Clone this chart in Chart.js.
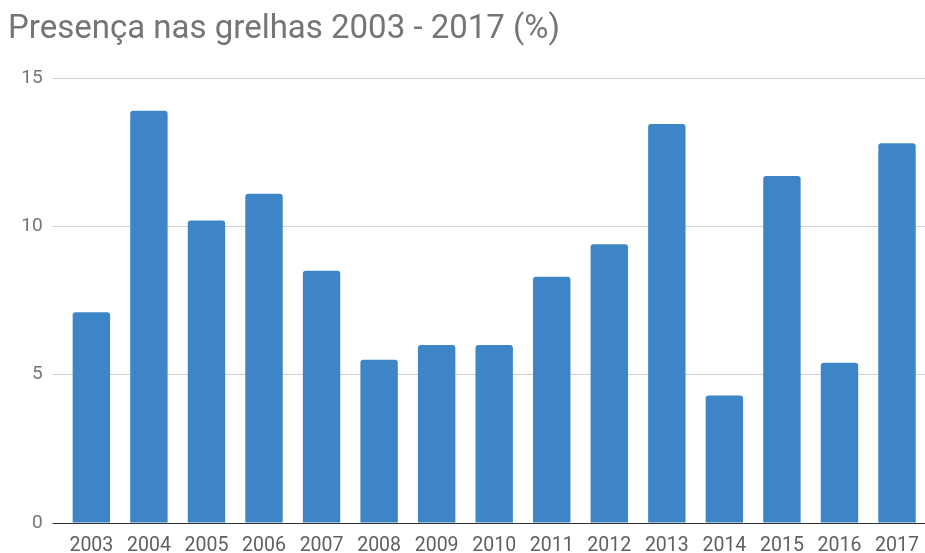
<!DOCTYPE html>
<html>
<head>
<meta charset="utf-8">
<script src="https://cdn.jsdelivr.net/npm/chart.js@4"></script>
<style>
  html, body { margin: 0; padding: 0; overflow: hidden; background: #fff; }
  #wrap { width: 930px; height: 553px; }
</style>
</head>
<body>
<div id="wrap"><canvas id="grelhas"></canvas></div>
<script>
// Dados
const anos = ['2003', '2004', '2005', '2006', '2007', '2008', '2009', '2010',
              '2011', '2012', '2013', '2014', '2015', '2016', '2017'];
const presenca = [7.1, 13.9, 10.2, 11.1, 8.5, 5.5, 6.0, 6.0, 8.3, 9.4, 13.45, 4.3, 11.7, 5.4, 12.8];
const yTicks = [0, 5, 10, 15];

Chart.defaults.font.family = 'Roboto, "Noto Sans", sans-serif';
Chart.defaults.animation = false;

new Chart(document.getElementById('grelhas'), {
  type: 'bar',
  data: {
    labels: anos,
    datasets: [{
      label: 'Presença',
      data: presenca,
      backgroundColor: '#3d85c6',
      borderRadius: { topLeft: 3, topRight: 3 },
      borderSkipped: 'start',
      barPercentage: 0.65,
      categoryPercentage: 1
    }]
  },
  options: {
    responsive: true,
    maintainAspectRatio: false,
    layout: { padding: { left: 8, right: 2, top: 0, bottom: 0 } },
    plugins: {
      legend: { display: false },
      tooltip: { enabled: false },
      title: {
        display: true,
        text: 'Presença nas grelhas 2003 - 2017 (%)',
        align: 'start',
        color: '#757575',
        font: { size: 33, weight: 'normal' },
        padding: { top: 9.5, bottom: 28.9 }
      }
    },
    scales: {
      x: {
        grid: { display: false, drawTicks: false },
        border: { color: '#333', width: 1 },
        ticks: { color: '#606060', font: { size: 19.5 }, padding: 11, maxRotation: 0 },
        afterFit: (s) => { s.height = 30; }
      },
      y: {
        min: 0,
        max: 15,
        afterBuildTicks: (s) => { s.ticks = yTicks.map(v => ({ value: v })); },
        border: { display: false },
        grid: {
          color: (c) => c.tick && c.tick.value === 0 ? '#333' : '#d0d0d0',
          tickLength: 10,
          drawTicks: true
        },
        ticks: { color: '#757575', font: { size: 19 }, padding: 10 },
        afterFit: (s) => { s.width = 54.6; }
      }
    }
  }
});
</script>
</body>
</html>
